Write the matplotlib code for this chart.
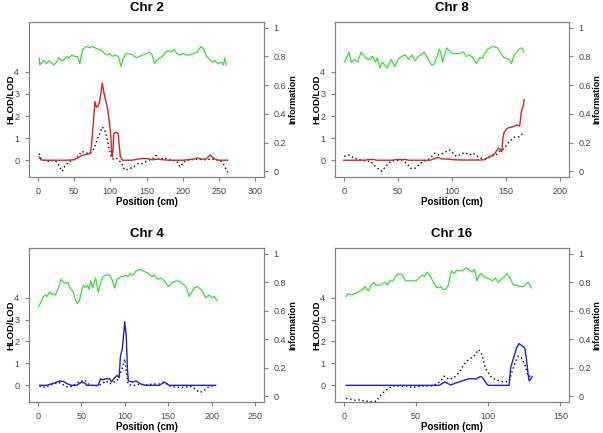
import numpy as np
import matplotlib.pyplot as plt

plt.rcParams['font.family'] = ['Liberation Sans', 'DejaVu Sans']

# ---- Chr 2 ----
chr2_info = [(2, 0.79), (3, 0.74), (6, 0.76), (9, 0.77), (12, 0.75), (15, 0.77), (18, 0.76),
             (22, 0.74), (26, 0.76), (29, 0.79), (33, 0.77), (37, 0.78), (40, 0.80), (43, 0.79),
             (47, 0.81), (51, 0.80), (55, 0.80), (58, 0.75), (60, 0.80), (62, 0.85), (65, 0.86),
             (68, 0.87), (72, 0.86), (75, 0.87), (79, 0.86), (83, 0.85), (86, 0.85), (90, 0.83),
             (93, 0.82), (96, 0.81), (99, 0.82), (103, 0.80), (107, 0.81), (111, 0.80), (115, 0.73),
             (118, 0.79), (122, 0.82), (126, 0.82), (131, 0.81), (136, 0.79), (140, 0.80), (145, 0.81),
             (150, 0.82), (154, 0.83), (158, 0.81), (161, 0.75), (164, 0.77), (168, 0.79), (172, 0.80),
             (176, 0.83), (180, 0.84), (184, 0.83), (188, 0.85), (192, 0.82), (196, 0.81), (200, 0.82),
             (205, 0.81), (210, 0.81), (215, 0.82), (220, 0.83), (225, 0.87), (229, 0.85), (233, 0.80),
             (237, 0.78), (241, 0.76), (245, 0.77), (249, 0.75), (253, 0.76), (256, 0.74), (258, 0.79),
             (260, 0.74)]
chr2_hlod = [(2, 0.15), (4, 0.02), (10, 0), (20, 0), (30, 0), (40, 0), (50, 0.02), (55, 0.1),
             (60, 0.2), (65, 0.25), (70, 0.28), (73, 0.35), (75, 1.0), (77, 1.8), (79, 2.65),
             (81, 2.4), (83, 2.45), (85, 2.6), (87, 3.0), (89, 3.5), (91, 3.1), (93, 2.8), (96, 2.4),
             (99, 1.7), (101, 1.0), (102, 0.3), (103, 0.15), (104, 0.6), (105, 1.2), (108, 1.27),
             (111, 1.2), (112, 0.8), (114, 0.15), (117, 0), (130, 0), (138, 0.05), (145, 0.08),
             (152, 0.07), (158, 0.02), (165, 0.05), (170, 0.03), (180, 0), (200, 0), (215, 0.05),
             (220, 0.1), (225, 0.05), (232, 0.05), (238, 0.24), (242, 0.1), (248, 0), (262, 0)]
chr2_lod = [(2, 0.3), (5, 0.05), (8, 0), (15, -0.05), (22, 0), (27, -0.1), (31, -0.35), (34, -0.5),
            (37, -0.3), (42, -0.1), (47, 0), (52, 0.05), (56, 0.2), (61, 0.4), (65, 0.35), (70, 0.3),
            (74, 0.35), (78, 0.55), (82, 0.95), (85, 1.15), (89, 1.5), (92, 1.4), (95, 1.1), (98, 0.6),
            (101, 0.2), (104, 0.05), (108, 0.1), (112, 0.0), (116, -0.15), (120, -0.45), (126, -0.4),
            (132, -0.3), (138, -0.15), (144, -0.15), (150, -0.05), (156, 0.05), (160, 0.1), (163, 0.22),
            (166, 0.05), (170, 0.05), (174, 0.12), (178, 0.05), (185, 0), (192, -0.05), (196, -0.3),
            (200, -0.15), (204, 0), (212, 0.02), (220, 0.05), (230, 0.02), (240, 0.05), (250, 0),
            (255, -0.1), (258, -0.3), (262, -0.55)]

# ---- Chr 8 ----
chr8_info = [(0.6, 0.76), (5, 0.83), (7, 0.76), (10, 0.78), (13, 0.76), (16, 0.83), (19, 0.80),
             (22, 0.78), (24.4, 0.78), (26.5, 0.80), (29.5, 0.76), (31, 0.79), (33.5, 0.72),
             (35.6, 0.76), (40.2, 0.72), (43.8, 0.78), (47.2, 0.73), (50.2, 0.78), (53.3, 0.80),
             (56.9, 0.81), (60, 0.78), (63, 0.81), (66, 0.77), (69, 0.80), (74.3, 0.83), (81.2, 0.74),
             (82.8, 0.74), (85.8, 0.79), (88.3, 0.85), (89.5, 0.83), (91.3, 0.76), (95, 0.86),
             (98.6, 0.83), (101.6, 0.82), (107, 0.82), (110.8, 0.83), (113.2, 0.80), (116.3, 0.81),
             (119.3, 0.79), (122.4, 0.75), (125.4, 0.79), (128.5, 0.79), (130, 0.82), (133, 0.85),
             (137.6, 0.87), (142.2, 0.86), (145.2, 0.82), (148.2, 0.79), (152.8, 0.78), (154.9, 0.75),
             (157.4, 0.81), (162, 0.85), (164.4, 0.86), (166.5, 0.83)]
chr8_hlod = [(0, 0), (20, 0), (22, 0.03), (28, 0.03), (30, 0), (45, 0), (48, 0.03), (57, 0.03),
             (60, 0), (80, 0), (85, 0.1), (88, 0.12), (90, 0.06), (97, 0.05), (102, 0.02), (110, 0.01),
             (125, 0.01), (130, 0.02), (134, 0.15), (139, 0.27), (143, 0.55), (145, 0.45), (146, 0.4),
             (147, 1.0), (148, 1.25), (151, 1.45), (155, 1.5), (158, 1.55), (160, 1.6), (162.5, 1.55),
             (164, 2.2), (166, 2.5), (166.5, 2.75)]
chr8_lod = [(0.6, 0.17), (5.2, 0.24), (9.7, 0.09), (14.3, 0.02), (20.4, -0.03), (25, -0.06),
            (29.5, -0.29), (35, -0.5), (40.2, -0.21), (43.2, -0.06), (47.8, 0.0), (53.9, 0.0),
            (58.4, -0.14), (61.5, -0.36), (66, -0.36), (70.6, -0.14), (75.2, -0.03), (79.8, 0.09),
            (84.3, 0.32), (87.4, 0.24), (91.9, 0.32), (98, 0.47), (101, 0.32), (104, 0.17),
            (107, 0.24), (111.7, 0.35), (116.3, 0.24), (119.3, 0.32), (122.4, 0.2), (127, 0.09),
            (131.5, 0.05), (136, 0.17), (140.7, 0.24), (143.7, 0.39), (148.2, 0.54), (152.8, 0.84),
            (157.4, 1.04), (162, 1.07), (165.6, 1.22)]

# ---- Chr 4 ----
chr4_info = [(1.1, 0.63), (6.8, 0.70), (8.7, 0.71), (10.6, 0.70), (13.7, 0.73), (16.3, 0.72),
             (20.1, 0.71), (24.0, 0.76), (26.6, 0.82), (29.6, 0.80), (31.9, 0.79), (34.6, 0.80),
             (37.2, 0.76), (41.0, 0.73), (42.9, 0.68), (45.6, 0.65), (47.9, 0.67), (50.5, 0.74),
             (52.4, 0.78), (54.7, 0.76), (57.0, 0.78), (59.3, 0.75), (60.8, 0.81), (63.1, 0.76),
             (65.0, 0.80), (66.5, 0.83), (69.5, 0.73), (72.6, 0.80), (75.2, 0.84), (78.3, 0.85),
             (82.0, 0.85), (84.7, 0.83), (88.5, 0.76), (91.2, 0.82), (93.5, 0.83), (96.1, 0.84),
             (98.8, 0.84), (101.1, 0.85), (103.7, 0.84), (106.4, 0.86), (109.4, 0.85), (113.2, 0.88),
             (117.0, 0.89), (120.8, 0.88), (124.6, 0.87), (127.7, 0.86), (131.5, 0.84), (134.1, 0.85),
             (138.0, 0.82), (141.7, 0.83), (145.5, 0.81), (150.1, 0.77), (155.0, 0.80), (160.8, 0.81),
             (164.5, 0.80), (170.2, 0.77), (174.0, 0.70), (179.7, 0.76), (183.5, 0.77), (187.3, 0.75),
             (190.0, 0.73), (193.0, 0.69), (196.8, 0.71), (200.6, 0.69), (202.5, 0.70), (206.3, 0.67)]
chr4_hlod = [(2.3, 0), (10.6, 0), (18.2, 0.1), (25.8, 0.2), (29.6, 0.18), (33.4, 0.08), (39, 0),
             (44.8, 0), (50.5, 0.15), (54.3, 0.1), (56.2, 0), (69.5, 0), (72.2, 0.3), (75.2, 0.25),
             (78.3, 0.3), (82.8, 0.3), (84.7, 0.15), (88.5, 0.35), (91.2, 0.45), (93.5, 0.35),
             (95, 1.3), (97.3, 1.7), (100, 2.9), (101.8, 2.2), (103, 0.8), (104.1, 0.2), (109.4, 0.15),
             (113.2, 0.2), (119, 0.05), (124.6, 0), (139.8, 0), (145.5, 0.15), (151.2, 0), (204.4, 0)]
chr4_lod = [(2.3, -0.02), (4.9, -0.1), (10.6, -0.05), (18.2, 0.06), (23.9, 0.14), (29.6, 0.02),
            (35.3, -0.09), (41, -0.02), (46.7, 0.14), (50.5, 0.2), (54.3, 0.24), (58.1, 0.06),
            (63.8, -0.02), (69.5, -0.02), (73.3, 0.06), (78.3, 0.2), (82.8, 0.06), (86.6, 0.14),
            (91.2, 0.2), (94.2, 0.44), (98, 0.89), (100, 1.2), (101.8, 0.59), (103.7, 0.06),
            (109.4, -0.02), (117, 0.06), (124.6, 0.02), (132.2, 0.06), (139.8, 0.06), (145.5, 0.14),
            (151.2, -0.02), (158.8, -0.09), (168.3, -0.09), (175.9, -0.05), (181.6, -0.17),
            (185.4, -0.32), (189.2, -0.29), (193, -0.17), (196.8, -0.06), (204.4, 0)]

# ---- Chr 16 ----
chr16_info = [(1.6, 0.70), (3.0, 0.72), (5.7, 0.71), (8.0, 0.72), (11.4, 0.74), (13.2, 0.75),
              (14.8, 0.77), (17.1, 0.74), (19.0, 0.78), (21.0, 0.80), (22.3, 0.78), (25.1, 0.78),
              (28.5, 0.80), (30.1, 0.78), (31.9, 0.81), (34.2, 0.81), (36.5, 0.85), (38.8, 0.86),
              (40.6, 0.85), (42.9, 0.81), (45.6, 0.81), (47.9, 0.81), (50.2, 0.81), (52.0, 0.83),
              (54.3, 0.85), (55.9, 0.84), (58.1, 0.87), (59.7, 0.85), (61.6, 0.81), (63.8, 0.77),
              (66.1, 0.76), (67.3, 0.77), (68.9, 0.75), (70.7, 0.75), (72.5, 0.78), (73.6, 0.84),
              (74.8, 0.88), (76.4, 0.86), (77.9, 0.88), (79.8, 0.88), (81.6, 0.88), (83.4, 0.89),
              (84.8, 0.90), (86.6, 0.89), (88.9, 0.87), (90.7, 0.89), (92.3, 0.81), (93.9, 0.85),
              (95.3, 0.86), (96.9, 0.84), (99.2, 0.83), (101.5, 0.82), (103.3, 0.81), (104.9, 0.83),
              (107.2, 0.80), (109.0, 0.82), (111.3, 0.84), (113.1, 0.86), (115.1, 0.83), (117.4, 0.78),
              (119.7, 0.78), (122.0, 0.77), (124.3, 0.77), (126.5, 0.79), (127.7, 0.80), (130.0, 0.76)]
chr16_hlod = [(1.6, 0), (66.1, 0), (70, 0.15), (73, 0.05), (74.1, 0.02), (77.5, 0.1), (82, 0.2),
              (86.6, 0.3), (90, 0.3), (91.2, 0.28), (94.6, 0.4), (95.8, 0.38), (99.2, 0.05),
              (100.3, 0), (114.5, 0), (115.6, 0.8), (117.4, 1.2), (119.7, 1.7), (121.3, 1.9),
              (123.6, 1.8), (125.4, 1.7), (126.5, 1.2), (127.7, 0.5), (128.4, 0.2), (130, 0.35),
              (130.6, 0.4)]
chr16_lod = [(1.6, -0.6), (4.6, -0.63), (8, -0.68), (11.4, -0.66), (14.8, -0.72), (19.4, -0.75),
             (22.8, -0.72), (25.1, -0.48), (28.5, -0.26), (31.9, -0.1), (35.3, -0.03), (38.8, -0.03),
             (43.3, -0.03), (47.9, -0.1), (51.3, -0.06), (55.9, -0.03), (60.4, -0.03), (63.8, 0.05),
             (67.3, 0.2), (69.5, 0.42), (73, 0.27), (76.4, 0.35), (79.8, 0.57), (83.2, 0.95),
             (86.6, 1.18), (90.1, 1.33), (93.5, 1.63), (95.8, 1.4), (98, 0.8), (101.5, 0.42),
             (104.9, 0.27), (108.3, 0.2), (111.7, 0.15), (114.7, 0.2), (116.3, 0.57), (118.6, 1.03),
             (120.8, 1.33), (123.1, 1.25), (125.4, 0.95), (127.7, 0.42), (130, 0.42)]

panels = [
    ("Chr 2", chr2_info, chr2_hlod, chr2_lod, 300, "#e02020"),
    ("Chr 8", chr8_info, chr8_hlod, chr8_lod, 200, "#e02020"),
    ("Chr 4", chr4_info, chr4_hlod, chr4_lod, 250, "#2020cc"),
    ("Chr 16", chr16_info, chr16_hlod, chr16_lod, 150, "#2020cc"),
]
boxes = [
    [29 / 603, 1 - 177 / 433, 235 / 603, 155 / 433],
    [335 / 603, 1 - 177 / 433, 234 / 603, 155 / 433],
    [29 / 603, 1 - 402 / 433, 235 / 603, 154 / 433],
    [335 / 603, 1 - 402 / 433, 234 / 603, 154 / 433],
]

fig = plt.figure(figsize=(6.03, 4.33), dpi=100)
grey = "#808080"
txt = "#444444"

for (title, info, hlod, lod, xmax, col), box in zip(panels, boxes):
    ax = fig.add_axes(box)
    ax2 = ax.twinx()
    info = np.array(info)
    hlod = np.array(hlod)
    lod = np.array(lod)

    ax.plot(lod[:, 0], lod[:, 1], color="black", linestyle=(0, (1, 2)), linewidth=1.0)
    ax.plot(hlod[:, 0], hlod[:, 1], color=col, linewidth=1.0)
    ax2.plot(info[:, 0], info[:, 1], color="#33e033", linewidth=0.9)

    pad = xmax * 0.04
    ax.set_xlim(-pad, xmax + pad)
    ax.set_ylim(-0.5 - 0.26, 6 + 0.26)
    ax2.set_ylim(-0.04, 1.04)
    ax.set_xticks(np.arange(0, xmax + 1, 50))
    ax.set_yticks([0, 1, 2, 3, 4])
    ax2.set_yticks([0, 0.2, 0.4, 0.6, 0.8, 1])
    ax2.set_yticklabels(["0", "0.2", "0.4", "0.6", "0.8", "1"])

    for a in (ax, ax2):
        for s in a.spines.values():
            s.set_color(grey)
            s.set_linewidth(0.8)
        a.tick_params(colors=grey, labelcolor=txt, labelsize=6.5, length=3, width=0.8, pad=4)
    ax.set_title(title, fontsize=9.5, fontweight="bold", pad=8)
    ax.set_xlabel("Position (cm)", fontsize=7, fontweight="bold", labelpad=1)
    ax.set_ylabel("HLOD/LOD", fontsize=6.8, fontweight="bold")
    ax.yaxis.set_label_coords(-0.057, 0.5)
    ax2.set_ylabel("Information", fontsize=6.5, fontweight="bold", rotation=90)
    ax2.yaxis.set_label_coords(1.102, 0.5)

fig.savefig("out.png", dpi=100)
